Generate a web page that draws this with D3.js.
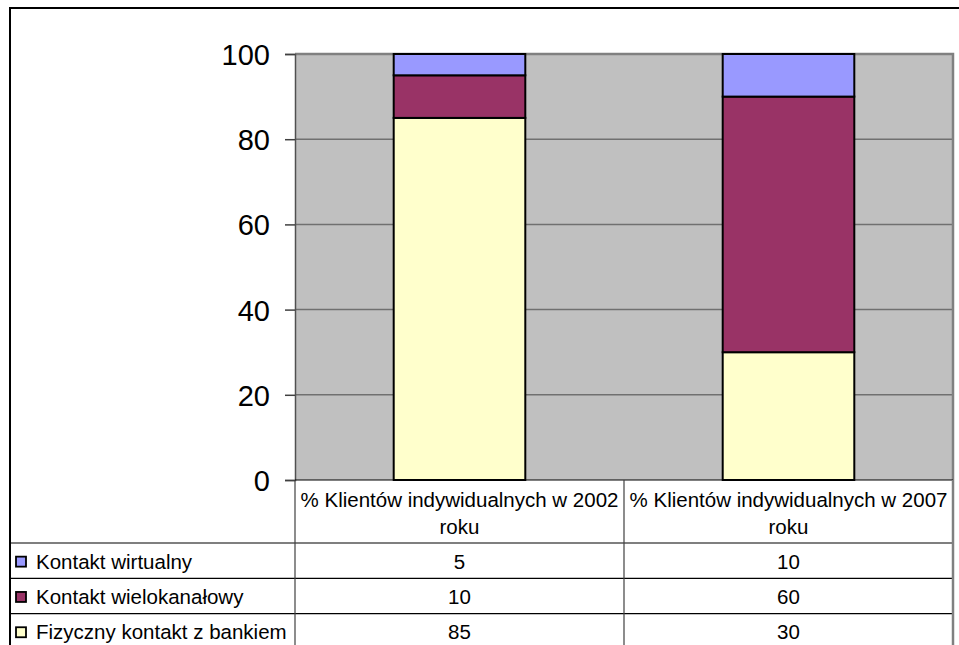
<!DOCTYPE html>
<html>
<head>
<meta charset="utf-8">
<script src="https://cdn.jsdelivr.net/npm/d3@7"></script>
<style>
  body { margin: 0; background: #fff; }
  text { font-family: "Liberation Sans", Arial, sans-serif; fill: #000; }
</style>
</head>
<body>
<script>
// data
const categories = ["% Klientów indywidualnych w 2002 roku", "% Klientów indywidualnych w 2007 roku"]
const headerLines = [["% Klientów indywidualnych w 2002", "roku"], ["% Klientów indywidualnych w 2007", "roku"]]
const seriesNames = ["Fizyczny kontakt z bankiem", "Kontakt wielokanałowy", "Kontakt wirtualny"]
const fizyczny = [85, 30]
const wielokanalowy = [10, 60]
const wirtualny = [5, 10]
const seriesColors = ["#FFFFCC", "#993366", "#9999FF"]
const yTicks = [0, 20, 40, 60, 80, 100]

const W = 959, H = 645
const plot = { left: 295, right: 953, top: 54, bottom: 480 }

const svg = d3.select("body")
    .append("svg")
        .attr("width", W)
        .attr("height", H)

// outer chart border
svg.append("rect")
    .attr("x", 10).attr("y", 8)
    .attr("width", W + 20).attr("height", H + 20)
    .attr("fill", "#fff")
    .attr("stroke", "#000")
    .attr("stroke-width", 2)

const x = d3.scaleBand()
    .domain(categories)
    .range([plot.left, plot.right])
    .paddingInner(0)
    .paddingOuter(0)

const barW = x.bandwidth() * 0.4

const y = d3.scaleLinear()
    .domain([0, 100])
    .range([plot.bottom, plot.top])

// plot area
svg.append("rect")
    .attr("x", plot.left).attr("y", plot.top)
    .attr("width", plot.right - plot.left).attr("height", plot.bottom - plot.top)
    .attr("fill", "#C0C0C0")

// gridlines
svg.append("g")
    .selectAll("line")
    .data(yTicks.filter(d => d > 0))
    .enter()
    .append("line")
        .attr("x1", plot.left).attr("x2", plot.right)
        .attr("y1", d => y(d)).attr("y2", d => y(d))
        .attr("stroke", "#707070")
        .attr("stroke-width", 1.5)

// plot border (top & right)
svg.append("path")
    .attr("d", `M${plot.left},${plot.top}H${plot.right}V${plot.bottom}`)
    .attr("fill", "none")
    .attr("stroke", "#808080")
    .attr("stroke-width", 2.5)

// stacked bars
const table = categories.map((c, i) => ({ cat: c, s0: fizyczny[i], s1: wielokanalowy[i], s2: wirtualny[i] }))
const stack = d3.stack().keys(["s0", "s1", "s2"])(table)

svg.append("g")
    .selectAll("g")
    .data(stack)
    .enter()
    .append("g")
        .attr("fill", (d, i) => seriesColors[i])
    .selectAll("rect")
    .data(d => d)
    .enter()
    .append("rect")
        .attr("x", d => x(d.data.cat) + (x.bandwidth() - barW) / 2)
        .attr("width", barW)
        .attr("y", d => y(d[1]))
        .attr("height", d => y(d[0]) - y(d[1]))
        .attr("stroke", "#000")
        .attr("stroke-width", 2)

// y axis
const yAxis = svg.append("g")
    .attr("transform", `translate(${plot.left},0)`)
    .call(d3.axisLeft(y).tickValues(yTicks).tickSize(10).tickPadding(15))
yAxis.select(".domain").attr("stroke", "#505050").attr("stroke-width", 1.5)
yAxis.selectAll(".tick line").attr("stroke", "#404040").attr("stroke-width", 1.5)
yAxis.selectAll(".tick text")
    .style("font-family", '"Liberation Sans", Arial, sans-serif')
    .style("font-size", "29px")
    .attr("dy", "0.36em")
    .attr("fill", "#000")

// data table
const headBottom = 543, rowH = 35.3
const rows = [
    { name: seriesNames[2], vals: wirtualny, color: seriesColors[2] },
    { name: seriesNames[1], vals: wielokanalowy, color: seriesColors[1] },
    { name: seriesNames[0], vals: fizyczny, color: seriesColors[0] }
]
const tbl = svg.append("g")

// horizontal lines
const hLines = [plot.bottom, headBottom].concat(rows.map((r, i) => headBottom + rowH * (i + 1)))
tbl.selectAll(".hl")
    .data(hLines)
    .enter()
    .append("line")
        .attr("x1", (d, i) => i === 0 ? plot.left : 10).attr("x2", plot.right)
        .attr("y1", d => d).attr("y2", d => d)
        .attr("stroke", "#000")
        .attr("stroke-width", 1.2)

// vertical lines
const vLines = [plot.left, x(categories[1]), plot.right]
tbl.selectAll(".vl")
    .data(vLines)
    .enter()
    .append("line")
        .attr("x1", d => d).attr("x2", d => d)
        .attr("y1", plot.bottom).attr("y2", H)
        .attr("stroke", (d, i) => i === 2 ? "#808080" : "#404040")
        .attr("stroke-width", (d, i) => i === 2 ? 2.5 : 1.2)

// header text
headerLines.forEach((lines, ci) => {
    lines.forEach((t, li) => {
        tbl.append("text")
            .attr("x", x(categories[ci]) + x.bandwidth() / 2)
            .attr("y", 507 + li * 27)
            .attr("text-anchor", "middle")
            .style("font-size", "20.5px")
            .text(t)
    })
})

// row contents
rows.forEach((r, ri) => {
    const cy = headBottom + rowH * ri + rowH / 2 + 1
    tbl.append("rect")
        .attr("x", 16).attr("y", cy - 5)
        .attr("width", 10).attr("height", 10)
        .attr("fill", r.color)
        .attr("stroke", "#000")
        .attr("stroke-width", 1.8)
    tbl.append("text")
        .attr("x", 36).attr("y", cy + 7)
        .style("font-size", "20.5px")
        .text(r.name)
    r.vals.forEach((v, ci) => {
        tbl.append("text")
            .attr("x", x(categories[ci]) + x.bandwidth() / 2)
            .attr("y", cy + 7)
            .attr("text-anchor", "middle")
            .style("font-size", "20.5px")
            .text(v)
    })
})
</script>
</body>
</html>
